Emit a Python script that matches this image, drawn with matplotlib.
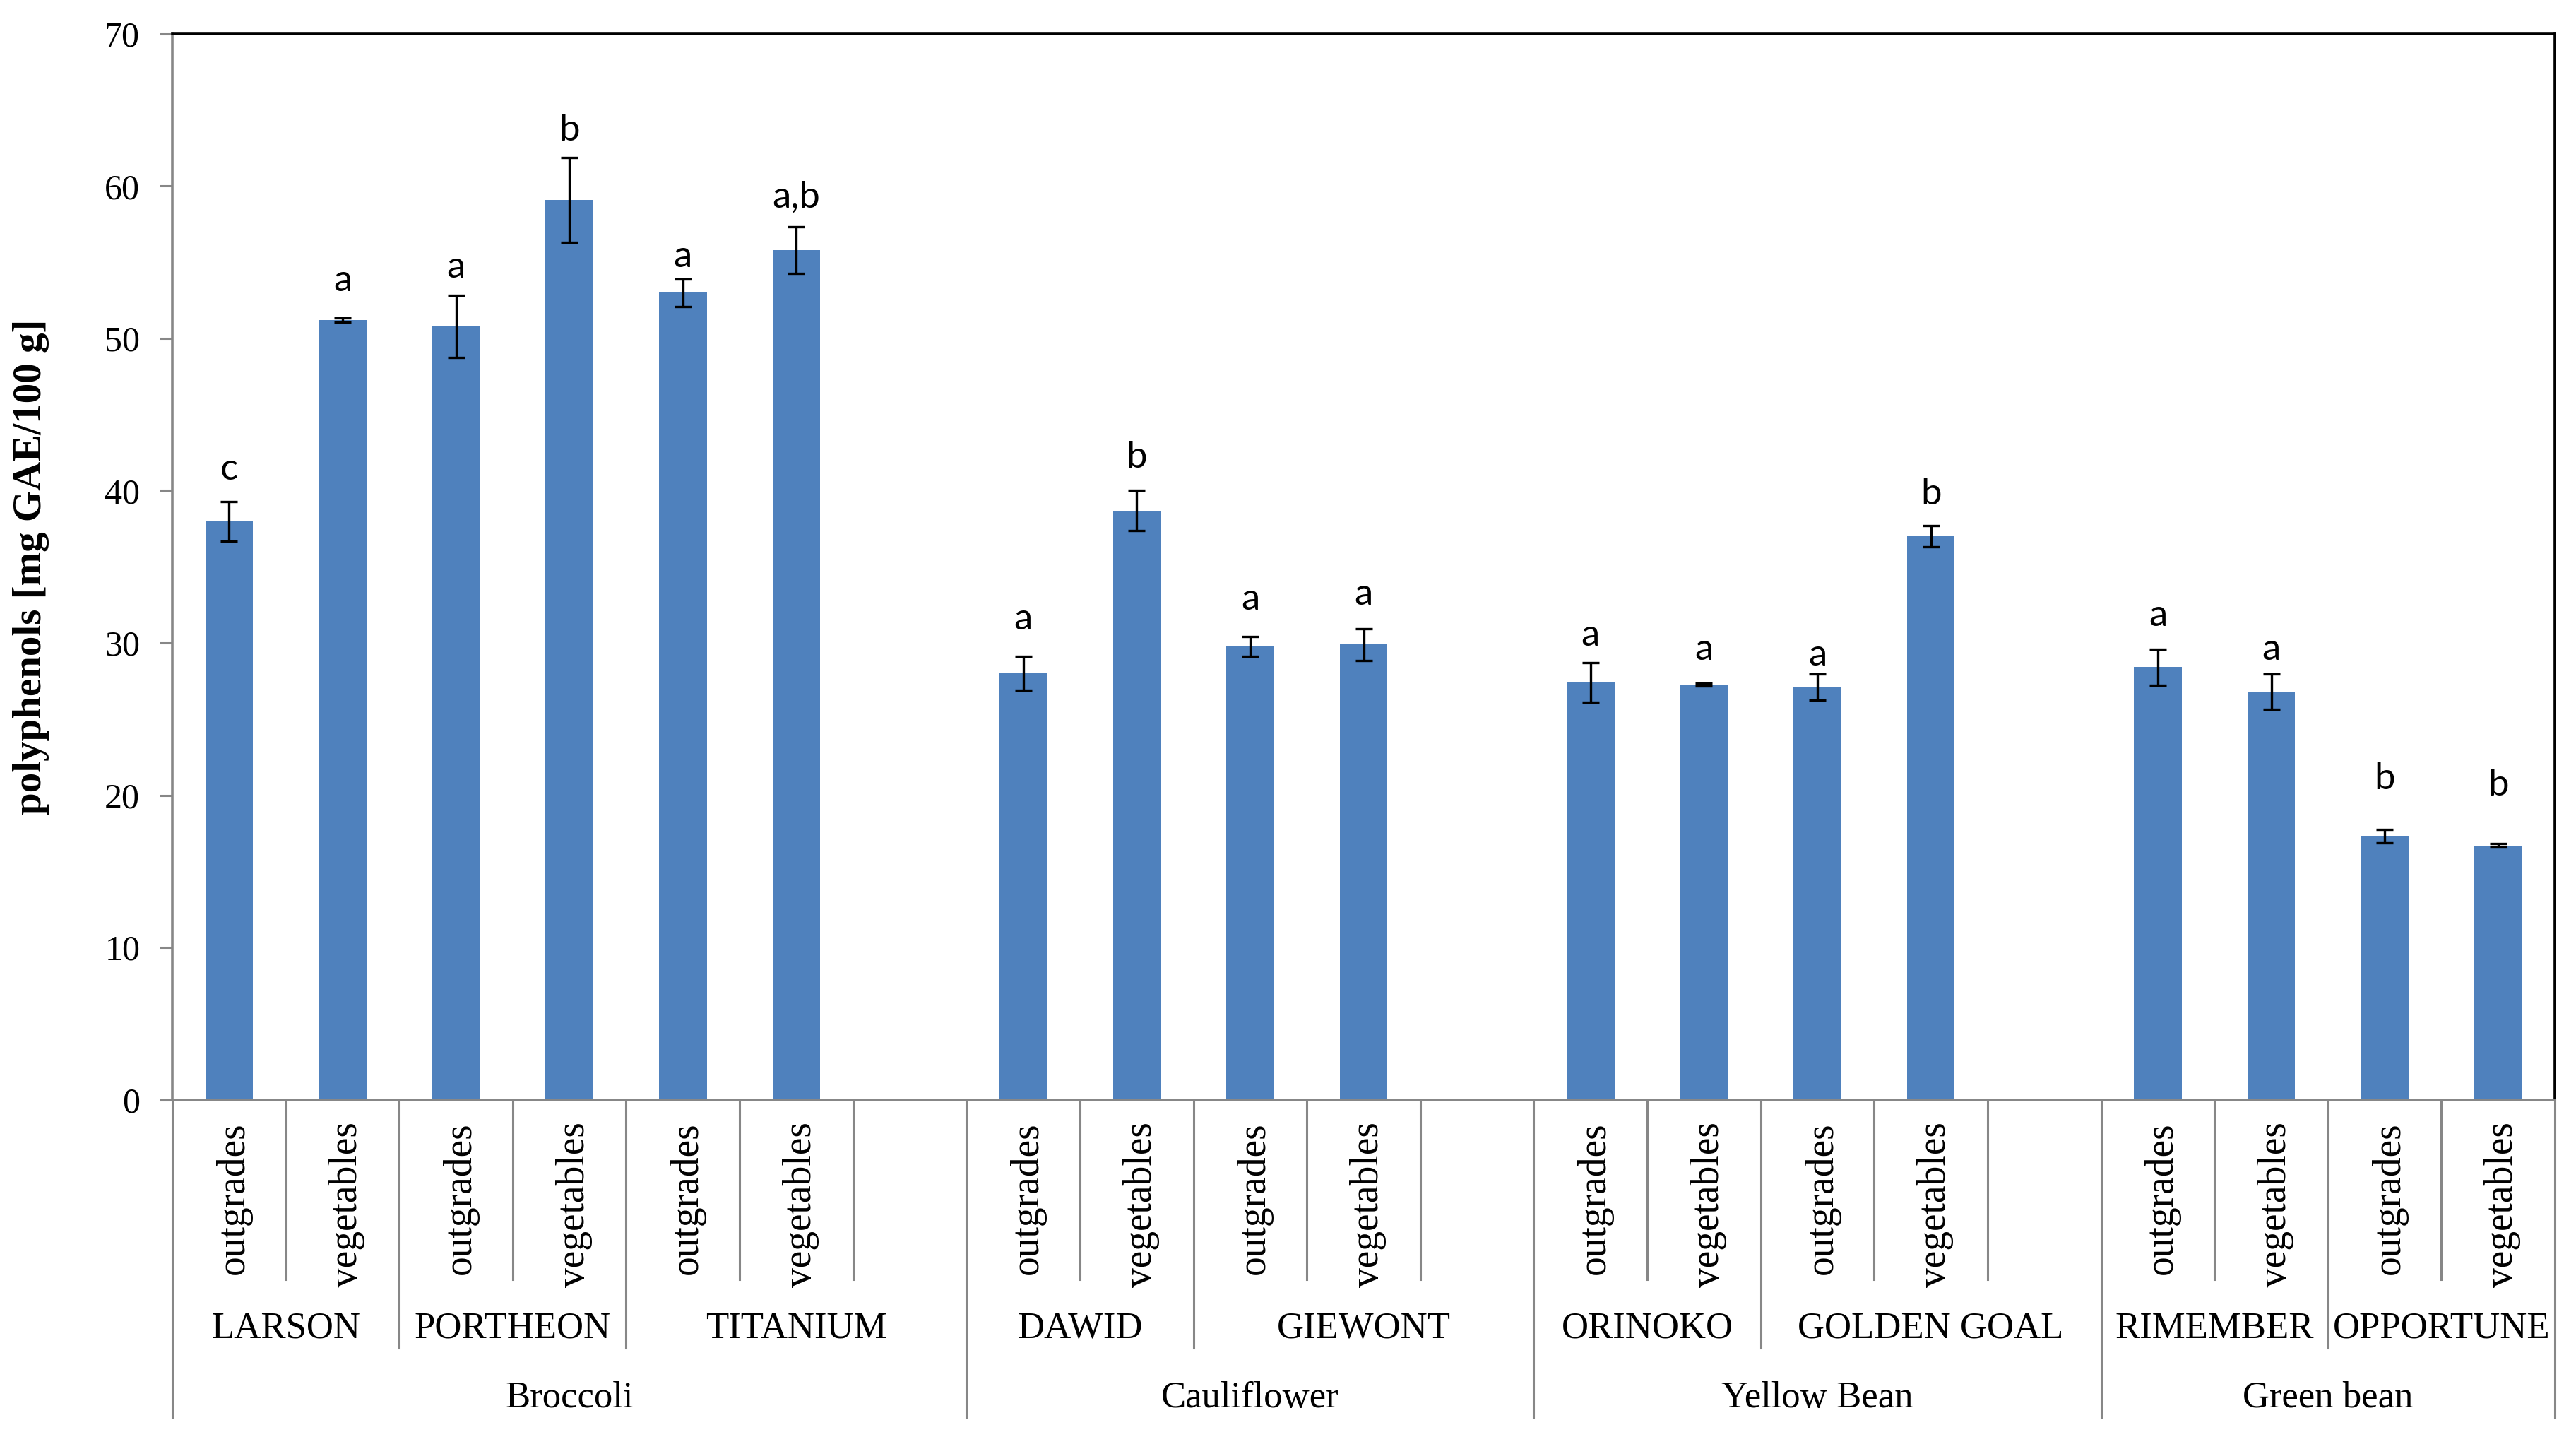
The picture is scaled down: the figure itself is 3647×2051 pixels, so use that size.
import numpy as np
import matplotlib
matplotlib.use("Agg")
import matplotlib.pyplot as plt
import matplotlib.transforms as mtransforms

# slot-by-slot data (empty slot = nan)
groups = ["Broccoli", "Cauliflower", "Yellow Bean", "Green bean"]
varieties = ["LARSON", "PORTHEON", "TITANIUM", "DAWID", "GIEWONT",
             "ORINOKO", "GOLDEN GOAL", "RIMEMBER", "OPPORTUNE"]
slot_group = [0, 0, 0, 0, 0, 0, 0,
              1, 1, 1, 1, 1,
              2, 2, 2, 2, 2,
              3, 3, 3, 3]
slot_variety = [0, 0, 1, 1, 2, 2, 2,
                3, 3, 4, 4, 4,
                5, 5, 6, 6, 6,
                7, 7, 8, 8]
sub_labels = ["outgrades", "vegetables", "outgrades", "vegetables", "outgrades", "vegetables", "",
              "outgrades", "vegetables", "outgrades", "vegetables", "",
              "outgrades", "vegetables", "outgrades", "vegetables", "",
              "outgrades", "vegetables", "outgrades", "vegetables"]
values = [38.0, 51.2, 50.8, 59.1, 53.0, 55.8, np.nan,
          28.0, 38.7, 29.75, 29.9, np.nan,
          27.4, 27.25, 27.1, 37.0, np.nan,
          28.4, 26.8, 17.3, 16.7]
errors = [1.3, 0.15, 2.05, 2.8, 0.9, 1.55, np.nan,
          1.1, 1.3, 0.65, 1.05, np.nan,
          1.3, 0.1, 0.85, 0.7, np.nan,
          1.2, 1.15, 0.45, 0.1]
letters = ["c", "a", "a", "b", "a", "a,b", "",
           "a", "b", "a", "a", "",
           "a", "a", "a", "b", "",
           "a", "a", "b", "b"]
# baseline heights of the significance letters (data units)
letter_y = [40.7, 53.1, 54.0, 63.0, 54.7, 58.6, np.nan,
            30.9, 41.5, 32.2, 32.5, np.nan,
            29.8, 28.9, 28.5, 39.1, np.nan,
            31.1, 28.9, 20.4, 20.0]

BLUE = "#4F81BD"
GRAY = "#878787"
SERIF = "Liberation Serif"

fig = plt.figure(figsize=(36.47, 20.51), dpi=100)
ax = fig.add_axes([0.0669, 0.2411, 0.9249, 0.7355])

x = np.arange(len(values))
ax.bar(x, values, width=0.42, color=BLUE, zorder=2)
ax.errorbar(x, values, yerr=errors, fmt="none", ecolor="black",
            elinewidth=2.4, capsize=8.5, capthick=2.4, zorder=3)

for xi, lab, ly in zip(x, letters, letter_y):
    if lab:
        ax.text(xi, ly, lab, ha="center", va="baseline",
                fontsize=38, family="Lato")

ax.set_xlim(-0.5, len(values) - 0.5)
ax.set_ylim(0, 70)
ax.set_yticks(np.arange(0, 71, 10))
ax.set_xticks([])
ax.tick_params(axis="y", direction="out", length=13, width=2.2,
               color=GRAY, pad=20, labelsize=36)
for t in ax.get_yticklabels():
    t.set_family(SERIF)

for side in ["left", "bottom"]:
    ax.spines[side].set_color(GRAY)
    ax.spines[side].set_linewidth(2.6)
for side in ["top", "right"]:
    ax.spines[side].set_color("black")
    ax.spines[side].set_linewidth(2.6)

ax.text(-0.0593, 0.5, "polyphenols [mg GAE/100 g]", transform=ax.transAxes,
        rotation=90, ha="center", va="center", fontsize=41,
        fontweight="bold", family=SERIF)

# multi-level category axis
trans = mtransforms.blended_transform_factory(ax.transData, ax.transAxes)
depth = {1: -0.169, 2: -0.233, 3: -0.298}
n = len(values)
for i in range(n + 1):
    if i == 0 or i == n or slot_group[i] != slot_group[i - 1]:
        lvl = 3
    elif slot_variety[i] != slot_variety[i - 1]:
        lvl = 2
    else:
        lvl = 1
    ax.plot([i - 0.5, i - 0.5], [0, depth[lvl]], transform=trans,
            color=GRAY, lw=2.2, clip_on=False, zorder=1)

for xi, lab in zip(x, sub_labels):
    if lab:
        ax.text(xi + 0.04, -0.021, lab, transform=trans, rotation=90,
                ha="center", va="top", fontsize=40, family=SERIF)

slot_variety = np.array(slot_variety)
slot_group = np.array(slot_group)
for k, name in enumerate(varieties):
    xs = x[slot_variety == k]
    ax.text(xs.mean(), -0.215, name, transform=trans, ha="center",
            va="center", fontsize=38, family=SERIF)
for k, name in enumerate(groups):
    xs = x[slot_group == k]
    ax.text(xs.mean(), -0.280, name, transform=trans, ha="center",
            va="center", fontsize=38, family=SERIF)

fig.savefig("out.png", dpi=100)
